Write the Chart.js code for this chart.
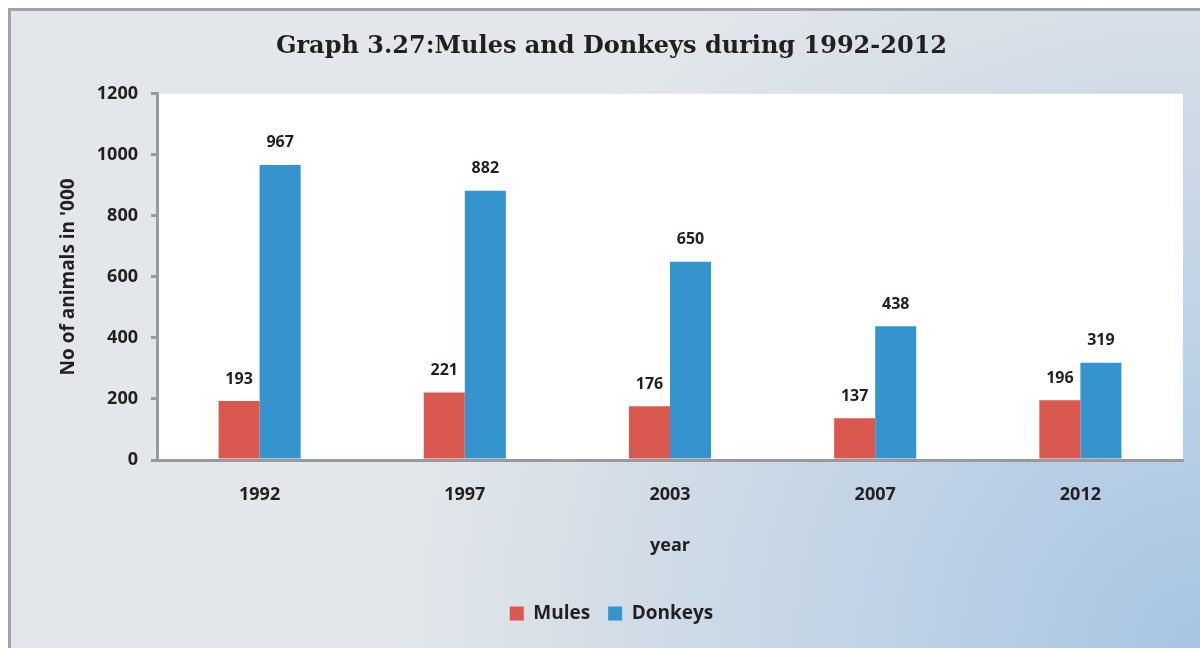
<!DOCTYPE html>
<html>
<head>
<meta charset="utf-8">
<script src="https://cdn.jsdelivr.net/npm/chart.js@4.4.1/dist/chart.umd.min.js"></script>
<style>
  html, body { margin: 0; padding: 0; background: #fff; }
  #wrap { width: 1200px; height: 648px; }
</style>
</head>
<body>
<div id="wrap"><canvas id="chart" width="1200" height="648"></canvas></div>
<script>
const years = ["1992", "1997", "2003", "2007", "2012"];
const mules = [193, 221, 176, 137, 196];
const donkeys = [967, 882, 650, 438, 319];

const textColor = "#231f20";
const bodyFont = "'Open Sans', Lato, sans-serif";

// background with gradient frame + white plot area
const backdrop = {
    id: "backdrop",
    beforeDraw(chart) {
        const ctx = chart.ctx;
        const w = chart.width, h = chart.height;
        ctx.save();
        ctx.fillStyle = "#ffffff";
        ctx.fillRect(0, 0, w, h);
        let grad = ctx.createRadialGradient(w, h, 0, w, h, 820);
        grad.addColorStop(0, "#a7c4e3");
        grad.addColorStop(0.35, "#bdd1e6");
        grad.addColorStop(0.75, "#d5dee7");
        grad.addColorStop(1, "#e3e7eb");
        ctx.fillStyle = grad;
        ctx.fillRect(10, 10, w - 10, h - 10);
        ctx.fillStyle = "#a2a3a6";
        ctx.fillRect(8, 8, w - 8, 3);
        ctx.fillRect(8, 8, 3, h - 8);
        const a = chart.chartArea;
        ctx.fillStyle = "#ffffff";
        ctx.fillRect(a.left, a.top, a.right - a.left, a.bottom - a.top);
        ctx.restore();
    }
};

// value labels above each bar
const valueLabels = {
    id: "valueLabels",
    afterDatasetsDraw(chart) {
        const ctx = chart.ctx;
        ctx.save();
        ctx.font = "bold 16px " + bodyFont;
        ctx.fillStyle = textColor;
        ctx.textAlign = "center";
        ctx.textBaseline = "middle";
        chart.data.datasets.forEach((ds, i) => {
            chart.getDatasetMeta(i).data.forEach((bar, j) => {
                ctx.fillText(ds.data[j], bar.x, bar.y - 22);
            });
        });
        ctx.restore();
    }
};

new Chart(document.getElementById("chart"), {
    type: "bar",
    data: {
        labels: years,
        datasets: [
            { label: "Mules", data: mules, backgroundColor: "#d95850" },
            { label: "Donkeys", data: donkeys, backgroundColor: "#3594cd" }
        ]
    },
    options: {
        responsive: false,
        animation: false,
        categoryPercentage: 0.4,
        barPercentage: 1.0,
        layout: { padding: { top: 32, left: 25, right: 2, bottom: 15 } },
        plugins: {
            title: {
                display: true,
                text: "Graph 3.27:Mules and Donkeys during 1992-2012",
                color: textColor,
                font: { family: "'DejaVu Serif', 'Liberation Serif', serif", size: 24, weight: "bold" },
                padding: { top: 0, bottom: 33 }
            },
            legend: {
                position: "bottom",
                labels: {
                    color: textColor,
                    font: { family: bodyFont, size: 19, weight: "bold" },
                    boxWidth: 14,
                    boxHeight: 14,
                    padding: 18
                }
            },
            tooltip: { enabled: false }
        },
        scales: {
            x: {
                grid: { display: false },
                border: { display: true, color: "#9a9a9c", width: 3 },
                ticks: { color: textColor, font: { family: bodyFont, size: 18, weight: "bold" }, padding: 16 },
                title: {
                    display: true,
                    text: "year",
                    color: textColor,
                    font: { family: bodyFont, size: 18, weight: "bold" },
                    padding: { top: 0, bottom: 29 }
                },
                afterFit(scale) { scale.height = 126; }
            },
            y: {
                min: 0,
                max: 1200,
                ticks: {
                    stepSize: 200,
                    color: textColor,
                    font: { family: bodyFont, size: 18, weight: "bold" },
                    padding: 13,
                    callback: v => String(v)
                },
                grid: { drawOnChartArea: false, drawTicks: true, tickLength: 6, color: "#9a9a9c", lineWidth: 3 },
                border: { display: true, color: "#9a9a9c", width: 3 },
                title: {
                    display: true,
                    text: "No of animals in '000",
                    color: textColor,
                    font: { family: bodyFont, size: 19, weight: "bold" },
                    padding: { top: 32, bottom: 0 }
                },
                afterFit(scale) { scale.width = 132; }
            },
            // empty spacer on the right so the plot ends where the reference does
            yRight: {
                position: "right",
                display: true,
                grid: { display: false },
                border: { display: false },
                ticks: { display: false },
                afterFit(scale) { scale.width = 15; }
            }
        }
    },
    plugins: [backdrop, valueLabels]
});
</script>
</body>
</html>
